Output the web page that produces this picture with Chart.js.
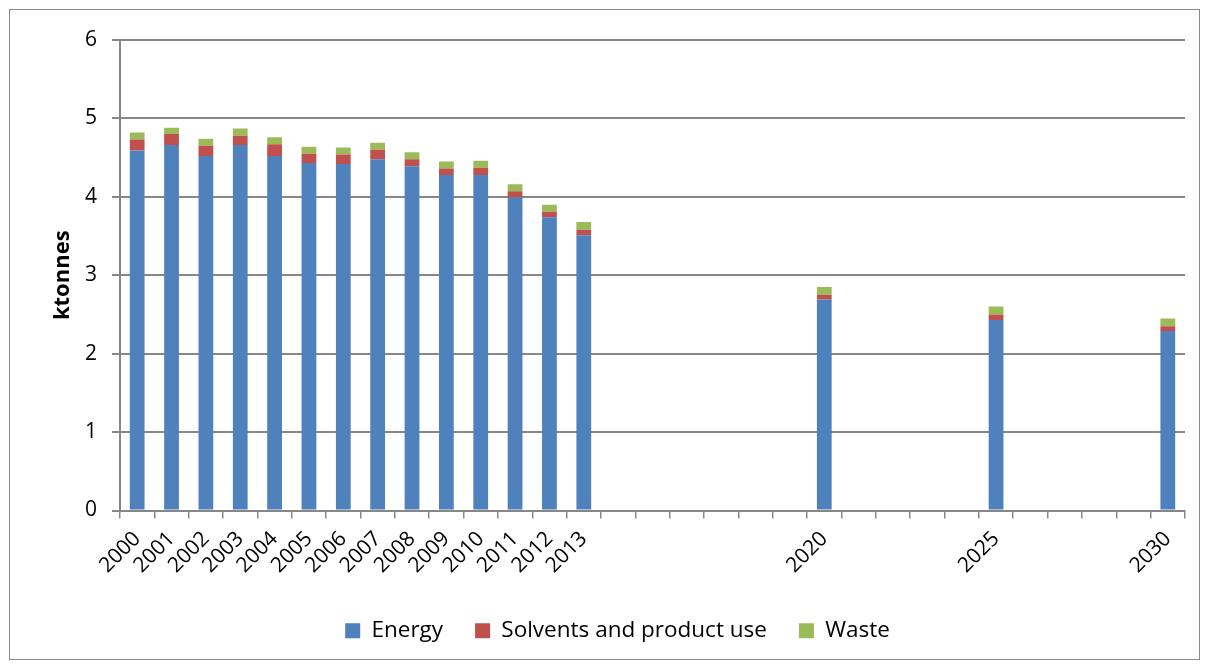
<!DOCTYPE html>
<html>
<head>
<meta charset="utf-8">
<script src="https://cdn.jsdelivr.net/npm/chart.js@4.4.1/dist/chart.umd.min.js"></script>
<style>
  html, body { margin: 0; padding: 0; background: #fff; }
  #wrap { position: relative; width: 1208px; height: 664px; }
</style>
</head>
<body>
<div id="wrap"><canvas id="c" width="1208" height="664"></canvas></div>
<script>
// Yearly categories on the x axis (projection years in between have no data)
const categories = ['2000','2001','2002','2003','2004','2005','2006','2007','2008','2009','2010',
  '2011','2012','2013','2014','2015','2016','2017','2018','2019','2020',
  '2021','2022','2023','2024','2025','2026','2027','2028','2029','2030'];

// Years that carry a tick label
const labelledYears = ['2000','2001','2002','2003','2004','2005','2006','2007','2008','2009','2010',
  '2011','2012','2013','2020','2025','2030'];

// Emissions by sector, ktonnes
const energy   = [4.59, 4.66, 4.52, 4.66, 4.52, 4.43, 4.42, 4.48, 4.39, 4.28, 4.28, 3.99, 3.74, 3.51,
  null, null, null, null, null, null, 2.69, null, null, null, null, 2.43, null, null, null, null, 2.29];
const solvents = [0.14, 0.14, 0.13, 0.12, 0.15, 0.12, 0.12, 0.12, 0.09, 0.08, 0.09, 0.08, 0.07, 0.07,
  null, null, null, null, null, null, 0.06, null, null, null, null, 0.07, null, null, null, null, 0.06];
const waste    = [0.09, 0.08, 0.09, 0.09, 0.09, 0.09, 0.09, 0.09, 0.09, 0.09, 0.09, 0.09, 0.09, 0.10,
  null, null, null, null, null, null, 0.10, null, null, null, null, 0.10, null, null, null, null, 0.10];

const yTicks = { min: 0, max: 6, step: 1 };

const FONT = '"Open Sans", "Liberation Sans", sans-serif';
const GRID = '#878787';

// Grey frame around the whole figure
const framePlugin = {
  id: 'frame',
  beforeDraw(chart) {
    const ctx = chart.ctx;
    ctx.save();
    ctx.fillStyle = '#fff';
    ctx.fillRect(0, 0, chart.width, chart.height);
    ctx.strokeStyle = '#8a8a8a';
    ctx.lineWidth = 1;
    ctx.strokeRect(9.5, 9.5, 1190, 650);
    ctx.restore();
  }
};

const barCommon = { barPercentage: 0.43, categoryPercentage: 1.0, borderWidth: 0 };

new Chart(document.getElementById('c'), {
  type: 'bar',
  data: {
    labels: categories,
    datasets: [
      Object.assign({ label: 'Energy', data: energy, backgroundColor: '#4F81BD' }, barCommon),
      Object.assign({ label: 'Solvents and product use', data: solvents, backgroundColor: '#C0504D' }, barCommon),
      Object.assign({ label: 'Waste', data: waste, backgroundColor: '#9BBB59' }, barCommon)
    ]
  },
  options: {
    responsive: false,
    animation: false,
    layout: { padding: { left: 50, right: 23, top: 40, bottom: 12 } },
    plugins: {
      tooltip: { enabled: false },
      legend: {
        position: 'bottom',
        labels: {
          boxWidth: 15, boxHeight: 15, padding: 32,
          color: '#000',
          font: { family: FONT, size: 22.5 }
        }
      }
    },
    scales: {
      x: {
        stacked: true,
        offset: true,
        grid: {
          offset: true,
          drawOnChartArea: false,
          drawTicks: true,
          tickLength: 8,
          color: GRID,
          lineWidth: 1.5
        },
        border: { color: GRID, width: 2 },
        ticks: {
          autoSkip: false,
          minRotation: 45, maxRotation: 45,
          color: '#000',
          padding: 8,
          font: { family: FONT, size: 21 },
          callback(value) {
            const lab = categories[value];
            return labelledYears.includes(lab) ? lab : '';
          }
        },
        afterFit(scale) { scale.height = 77; }
      },
      y: {
        stacked: true,
        min: yTicks.min, max: yTicks.max,
        grid: {
          color: GRID,
          lineWidth: 2,
          tickLength: 8
        },
        border: { color: GRID, width: 2 },
        ticks: {
          stepSize: yTicks.step,
          color: '#000',
          padding: 15,
          font: { family: FONT, size: 21 }
        },
        title: {
          display: true,
          text: 'ktonnes',
          color: '#000',
          padding: 0,
          font: { family: FONT, size: 22, weight: 'bold' }
        },
        afterFit(scale) { scale.width = 70; }
      }
    }
  },
  plugins: [framePlugin]
});
</script>
</body>
</html>
